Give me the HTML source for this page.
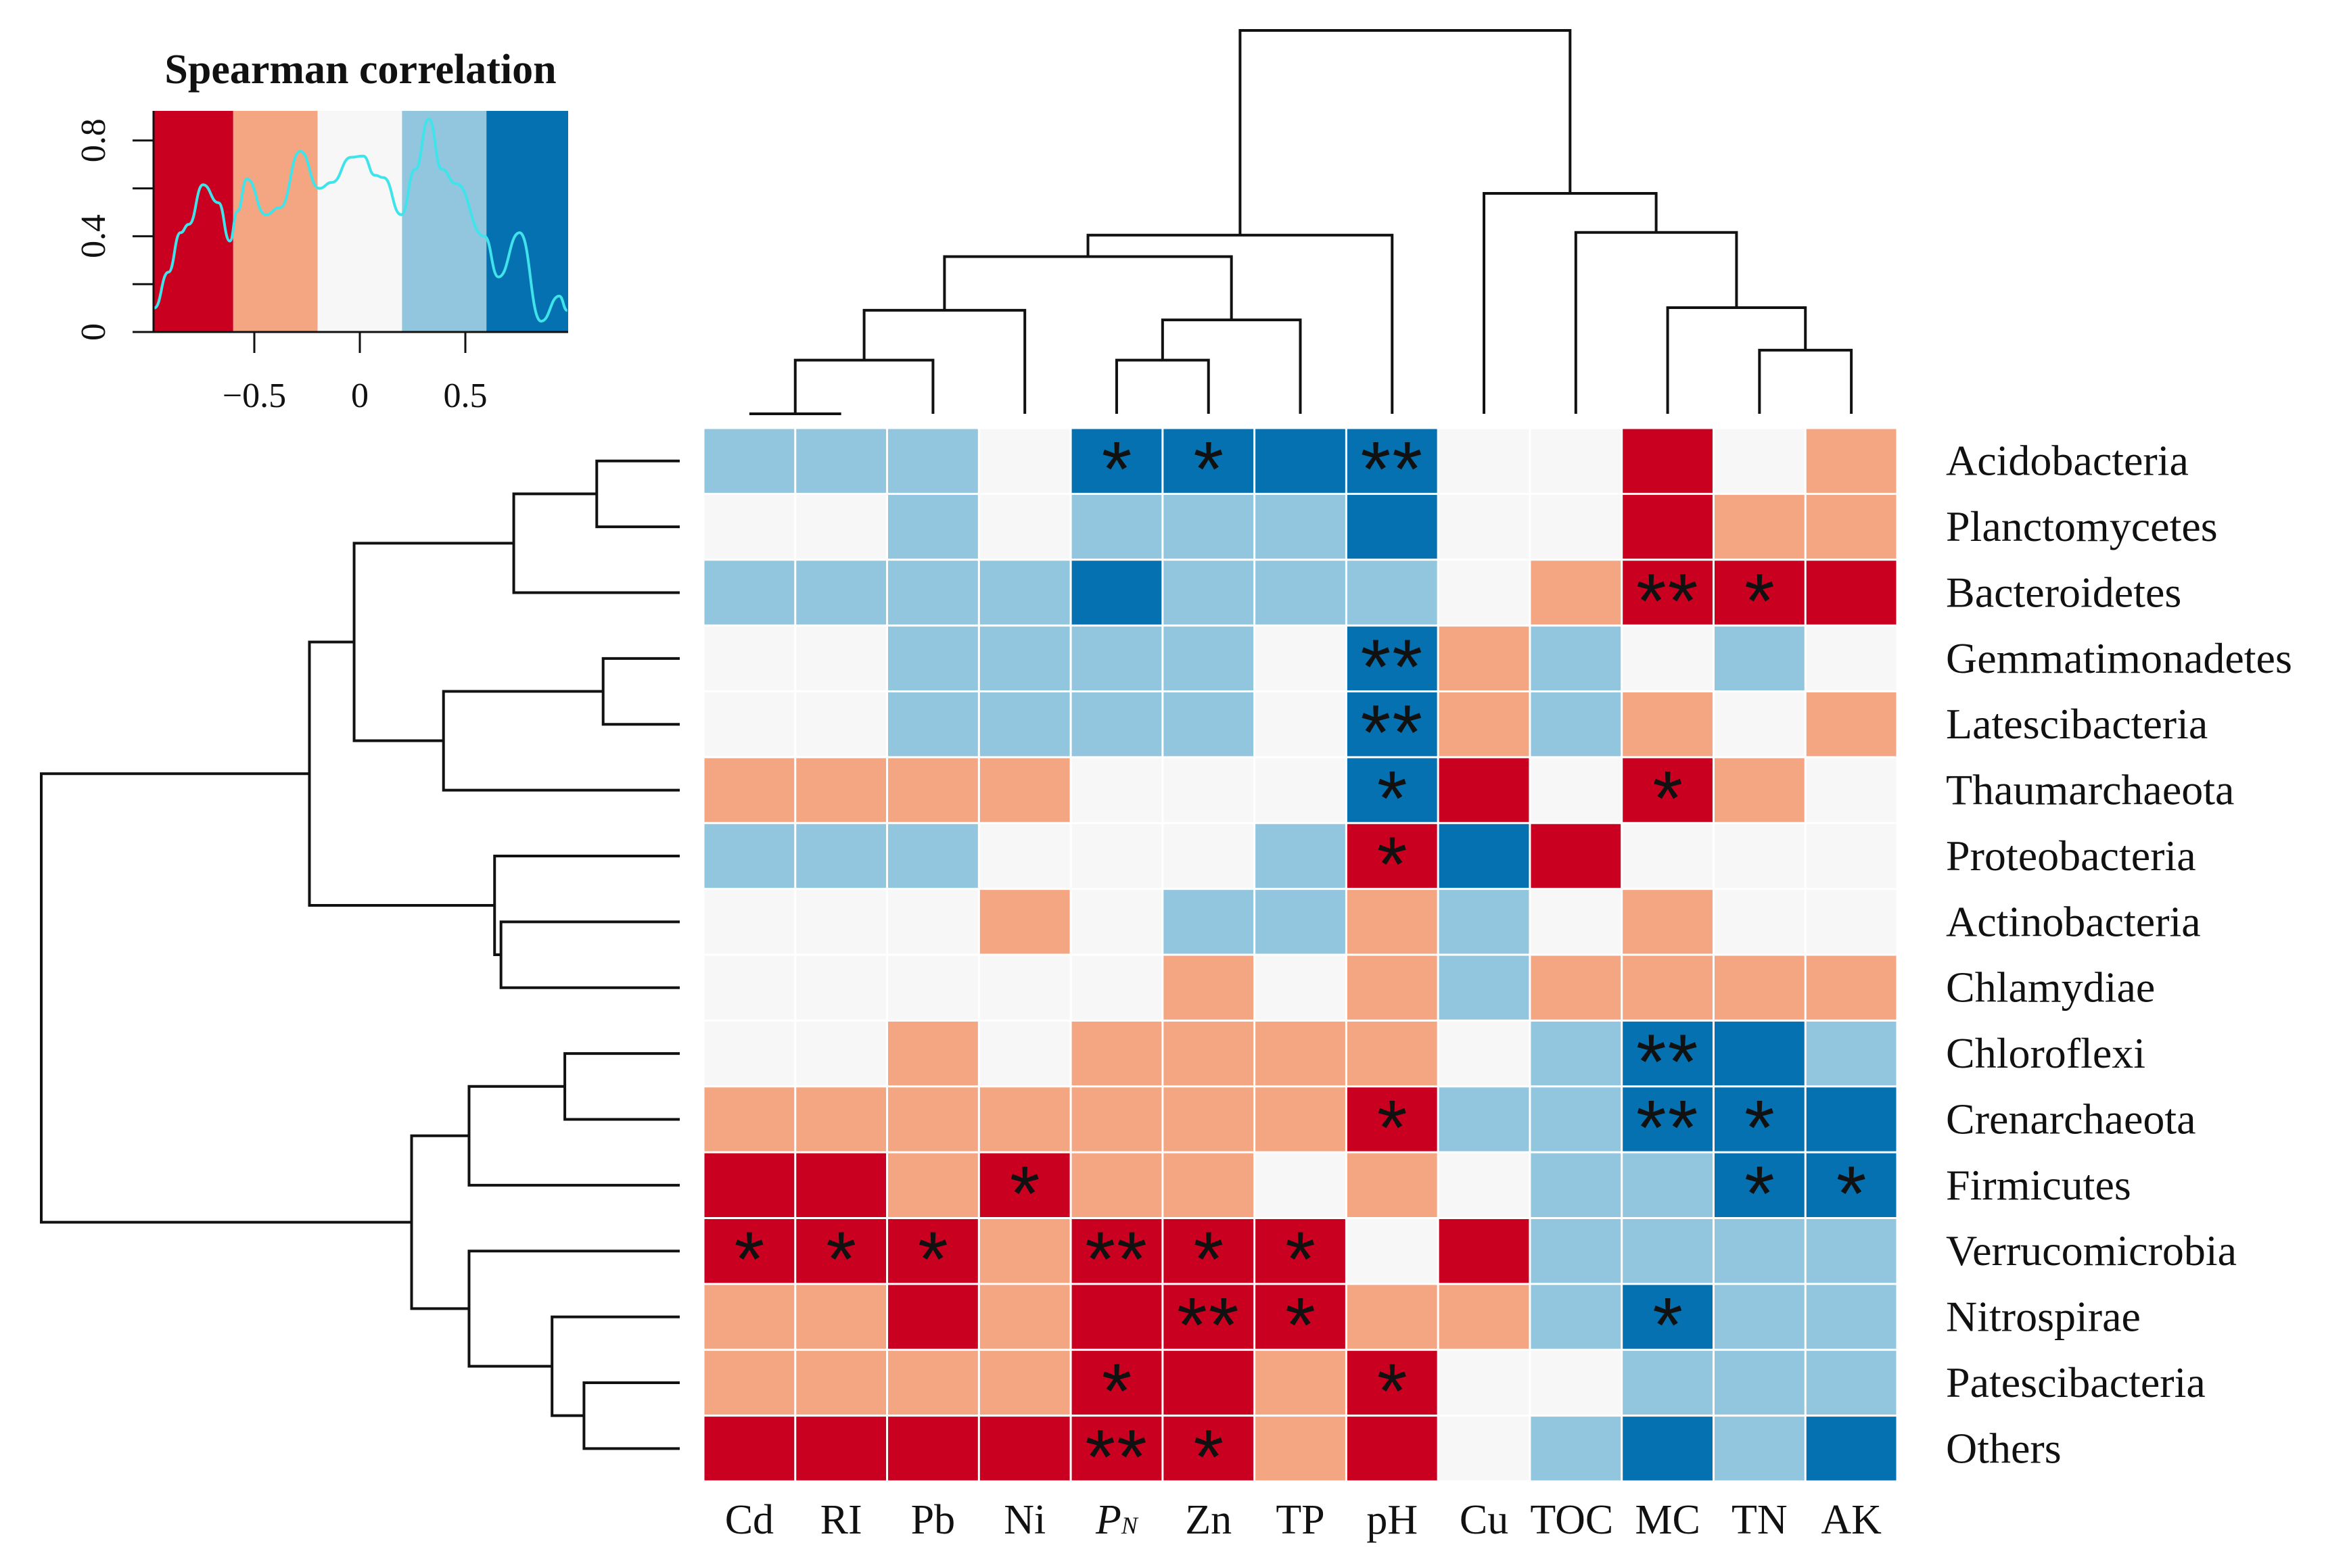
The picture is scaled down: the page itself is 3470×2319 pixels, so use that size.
<!DOCTYPE html>
<html><head><meta charset="utf-8"><style>
html,body{margin:0;padding:0;background:#fff;}
svg{display:block;}
text{font-family:"Liberation Serif",serif;fill:#111;}
</style></head><body>
<svg id="chart" width="3470" height="2319" viewBox="0 0 3470 2319" xmlns="http://www.w3.org/2000/svg">
<rect width="3470" height="2319" fill="#fff"/>
<g id="legend"></g>
<g id="topdend"></g>
<g id="leftdend"></g>
<g id="cells"></g>
<g id="rowlabels"></g>
<g id="collabels"></g>
</svg>
<script>
const columns = ["Cd","RI","Pb","Ni","PN","Zn","TP","pH","Cu","TOC","MC","TN","AK"];
const rows = ["Acidobacteria","Planctomycetes","Bacteroidetes","Gemmatimonadetes","Latescibacteria","Thaumarchaeota","Proteobacteria","Actinobacteria","Chlamydiae","Chloroflexi","Crenarchaeota","Firmicutes","Verrucomicrobia","Nitrospirae","Patescibacteria","Others"];
// rho values (band midpoints): -0.8 red, -0.4 salmon, 0 white, 0.4 light blue, 0.8 blue
const rho = [
[0.4,0.4,0.4,0,0.8,0.8,0.8,0.8,0,0,-0.8,0,-0.4],
[0,0,0.4,0,0.4,0.4,0.4,0.8,0,0,-0.8,-0.4,-0.4],
[0.4,0.4,0.4,0.4,0.8,0.4,0.4,0.4,0,-0.4,-0.8,-0.8,-0.8],
[0,0,0.4,0.4,0.4,0.4,0,0.8,-0.4,0.4,0,0.4,0],
[0,0,0.4,0.4,0.4,0.4,0,0.8,-0.4,0.4,-0.4,0,-0.4],
[-0.4,-0.4,-0.4,-0.4,0,0,0,0.8,-0.8,0,-0.8,-0.4,0],
[0.4,0.4,0.4,0,0,0,0.4,-0.8,0.8,-0.8,0,0,0],
[0,0,0,-0.4,0,0.4,0.4,-0.4,0.4,0,-0.4,0,0],
[0,0,0,0,0,-0.4,0,-0.4,0.4,-0.4,-0.4,-0.4,-0.4],
[0,0,-0.4,0,-0.4,-0.4,-0.4,-0.4,0,0.4,0.8,0.8,0.4],
[-0.4,-0.4,-0.4,-0.4,-0.4,-0.4,-0.4,-0.8,0.4,0.4,0.8,0.8,0.8],
[-0.8,-0.8,-0.4,-0.8,-0.4,-0.4,0,-0.4,0,0.4,0.4,0.8,0.8],
[-0.8,-0.8,-0.8,-0.4,-0.8,-0.8,-0.8,0,-0.8,0.4,0.4,0.4,0.4],
[-0.4,-0.4,-0.8,-0.4,-0.8,-0.8,-0.8,-0.4,-0.4,0.4,0.8,0.4,0.4],
[-0.4,-0.4,-0.4,-0.4,-0.8,-0.8,-0.4,-0.8,0,0,0.4,0.4,0.4],
[-0.8,-0.8,-0.8,-0.8,-0.8,-0.8,-0.4,-0.8,0,0.4,0.8,0.4,0.8]];
const stars = [
[0,0,0,0,1,1,0,2,0,0,0,0,0],
[0,0,0,0,0,0,0,0,0,0,0,0,0],
[0,0,0,0,0,0,0,0,0,0,2,1,0],
[0,0,0,0,0,0,0,2,0,0,0,0,0],
[0,0,0,0,0,0,0,2,0,0,0,0,0],
[0,0,0,0,0,0,0,1,0,0,1,0,0],
[0,0,0,0,0,0,0,1,0,0,0,0,0],
[0,0,0,0,0,0,0,0,0,0,0,0,0],
[0,0,0,0,0,0,0,0,0,0,0,0,0],
[0,0,0,0,0,0,0,0,0,0,2,0,0],
[0,0,0,0,0,0,0,1,0,0,2,1,0],
[0,0,0,1,0,0,0,0,0,0,0,1,1],
[1,1,1,0,2,1,1,0,0,0,0,0,0],
[0,0,0,0,0,2,1,0,0,0,1,0,0],
[0,0,0,0,1,0,0,1,0,0,0,0,0],
[0,0,0,0,2,1,0,0,0,0,0,0,0]];
const bandEdges = [-1,-0.6,-0.2,0.2,0.6,1];
const bandColors = ["#ca0020","#f4a582","#f7f7f7","#92c5de","#0571b0"];
const densityX = [-0.974,-0.907,-0.85,-0.81,-0.743,-0.67,-0.616,-0.58,-0.535,-0.446,-0.378,-0.282,-0.193,-0.132,-0.042,0.016,0.071,0.112,0.196,0.263,0.327,0.388,0.455,0.59,0.657,0.757,0.859,0.945,0.983];
const densityY = [0.10,0.25,0.415,0.45,0.615,0.54,0.38,0.505,0.64,0.49,0.52,0.755,0.6,0.625,0.73,0.735,0.655,0.645,0.49,0.68,0.89,0.68,0.62,0.40,0.23,0.415,0.045,0.15,0.09];
const xTicks = [-0.5,0,0.5];
const xTickLabels = ["\u22120.5","0","0.5"];
const yTicks = [0,0.2,0.4,0.6,0.8];
const yTickLabels = ["0","","0.4","","0.8"];
const colTree = [[[[[[0,1,0.0],2,0.14],3,0.27],[[4,5,0.14],6,0.245],0.41],7,0.466],[8,[9,[10,[11,12,0.166],0.277],0.473],0.575],1.0];
const rowTree = [[[[[0,1,0.13],2,0.26],[[3,4,0.12],5,0.37],0.51],[6,[7,8,0.28],0.29],0.58],[[[9,10,0.18],11,0.33],[12,[13,[14,15,0.15],0.20],0.33],0.42],1.0];

const NS="http://www.w3.org/2000/svg";
function mk(tag,attrs,parent){const e=document.createElementNS(NS,tag);for(const k in attrs)e.setAttribute(k,attrs[k]);parent.appendChild(e);return e;}

const hx0=1040,hx1=2805,hy0=633,hy1=2191;
const cw=(hx1-hx0)/columns.length, ch=(hy1-hy0)/rows.length;
const colX=i=>hx0+cw*(i+0.5), rowY=j=>hy0+ch*(j+0.5);
function colorOf(v){for(let b=0;b<bandColors.length;b++){if(v<bandEdges[b+1]||b===bandColors.length-1)return bandColors[b];}}

const cells=document.getElementById('cells');
rows.forEach((r,j)=>{columns.forEach((c,i)=>{
  const rc=mk('rect',{x:hx0+cw*i+1.5,y:hy0+ch*j+1.5,width:cw-3,height:ch-3,fill:colorOf(rho[j][i])},cells);
  
  
  if(stars[j][i]){
    const t=mk('text',{x:colX(i),y:rowY(j)+52,'text-anchor':'middle','font-size':115,'letter-spacing':stars[j][i]>1?2:0,style:'font-family:"Liberation Sans",sans-serif'},cells);
    t.textContent=stars[j][i]>1?'**':'*';
    
    
  }
});});

const rl=document.getElementById('rowlabels');
rows.forEach((r,j)=>{const t=mk('text',{x:2877,y:rowY(j)+21,'font-size':64},rl);t.textContent=r;
  
  });
const cl=document.getElementById('collabels');
columns.forEach((c,i)=>{const t=mk('text',{x:colX(i)+(c==="TOC"?-6:0),y:2268,'text-anchor':'middle','font-size':62},cl);
  if(c==="PN"){t.innerHTML='<tspan font-style="italic">P</tspan><tspan font-style="italic" font-size="36">N</tspan>';}else t.textContent=c;
  
  });

function render(node,g,leafPos,hPos,leafEnd,vertical){
  if(typeof node==='number')return {p:leafPos(node),h:leafEnd};
  const a=render(node[0],g,leafPos,hPos,leafEnd,vertical), b=render(node[1],g,leafPos,hPos,leafEnd,vertical);
  const h=hPos(node[2]);
  let d;
  if(vertical) d=`M${a.p},${a.h}V${h}H${b.p}V${b.h}`;
  else d=`M${a.h},${a.p}H${h}V${b.p}H${b.h}`;
  const p=mk('path',{d,fill:'none',stroke:'#111','stroke-width':4},g);
  
  
  return {p:(a.p+b.p)/2,h};
}
render(colTree,document.getElementById('topdend'),colX,v=>612-v*(612-45),612,true);
render(rowTree,document.getElementById('leftdend'),rowY,v=>1005-v*(1005-61),1005,false);

const lg=document.getElementById('legend');
const bx0=227,bx1=840,by0=164,by1=491;
const lx=v=>532+v*312, ly=v=>491-v*354;
const tt=mk('text',{x:533,y:123,'text-anchor':'middle','font-size':62,'font-weight':'bold'},lg);tt.textContent='Spearman correlation';


for(let b=0;b<bandColors.length;b++){
  const x0=Math.max(bx0,lx(bandEdges[b])), x1=Math.min(bx1,lx(bandEdges[b+1]));
  const r=mk('rect',{x:x0,y:by0,width:x1-x0,height:by1-by0,fill:bandColors[b]},lg);
  
  
}
const pts=densityX.map((v,i)=>[lx(v),ly(densityY[i])]);
let dd='M'+pts[0][0]+','+pts[0][1];
for(let i=1;i<pts.length;i++){const p0=pts[i-1],p1=pts[i];const mx=(p0[0]+p1[0])/2;dd+=` C${mx},${p0[1]} ${mx},${p1[1]} ${p1[0]},${p1[1]}`;}
const dl=mk('path',{d:dd,fill:'none',stroke:'#3fe3ea','stroke-width':4},lg);


const ax=mk('path',{d:`M${bx0},${by1}V${by0}M${bx0},${by1}H${bx1}`,stroke:'#111','stroke-width':3,fill:'none'},lg);


xTicks.forEach((v,i)=>{
  const tk=mk('line',{x1:lx(v),x2:lx(v),y1:by1,y2:522,stroke:'#111','stroke-width':3},lg);
  
  
  const t=mk('text',{x:lx(v),y:602,'text-anchor':'middle','font-size':52},lg);t.textContent=xTickLabels[i];
  
  
});
yTicks.forEach((v,i)=>{
  const tk=mk('line',{x1:196,x2:bx0,y1:ly(v),y2:ly(v),stroke:'#111','stroke-width':3},lg);
  
  
  if(yTickLabels[i]){const t=mk('text',{x:0,y:0,'text-anchor':'middle','font-size':52,transform:`translate(155,${ly(v)}) rotate(-90)`},lg);t.textContent=yTickLabels[i];
  
  }
});
</script>
</body></html>
